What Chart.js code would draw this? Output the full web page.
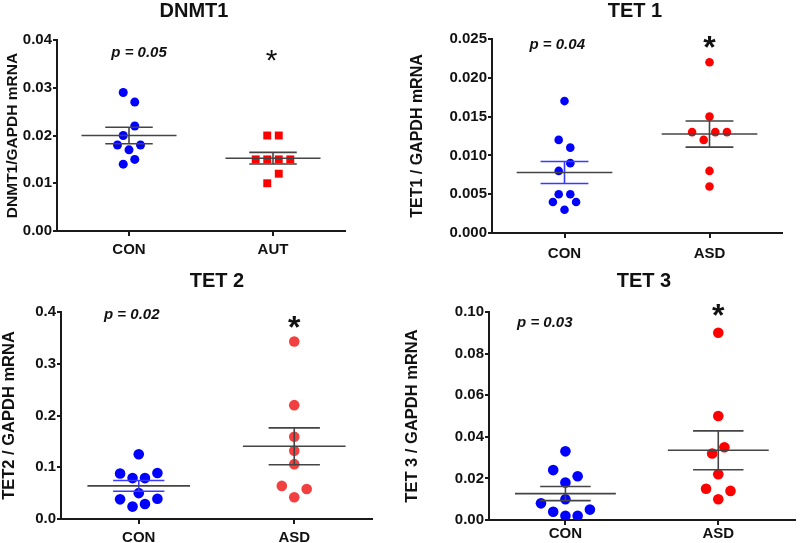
<!DOCTYPE html>
<html>
<head>
<meta charset="utf-8">
<script src="https://cdn.jsdelivr.net/npm/chart.js@4"></script>
<style>
  body { margin: 0; background: #fff; width: 800px; height: 543px; position: relative; overflow: hidden; }
  canvas { position: absolute; }
</style>
</head>
<body>
<canvas id="dnmt1" width="400" height="270" style="left:0;top:0"></canvas>
<canvas id="tet1" width="400" height="270" style="left:400px;top:0"></canvas>
<canvas id="tet2" width="400" height="273" style="left:0;top:270px"></canvas>
<canvas id="tet3" width="400" height="273" style="left:400px;top:270px"></canvas>
<script>
/* Variables */
const groupsDnmt = ['CON', 'AUT'];
const groupsTet = ['CON', 'ASD'];

// DNMT1 / GAPDH mRNA
const dnmt1Con = [0.029, 0.027, 0.022, 0.020, 0.018, 0.018, 0.017, 0.015, 0.014];
const dnmt1ConJit = [-1, 1, 1, -1, -2, 2, 0, 1, -1];
const dnmt1Aut = [0.020, 0.020, 0.015, 0.015, 0.015, 0.015, 0.012, 0.010];
const dnmt1AutJit = [-1, 1, -3, -1, 1, 3, 1, -1];
const dnmt1Ticks = [0, 0.01, 0.02, 0.03, 0.04];

// TET1 / GAPDH mRNA
const tet1Con = [0.017, 0.012, 0.011, 0.009, 0.008, 0.005, 0.005, 0.004, 0.004, 0.003];
const tet1ConJit = [0, -1, 1, 1, -1, -1, 1, -2, 2, 0];
const tet1Asd = [0.022, 0.015, 0.013, 0.013, 0.013, 0.012, 0.008, 0.006];
const tet1AsdJit = [0, 0, -3, 1, 3, -1, 0, 0];
const tet1Ticks = [0, 0.005, 0.010, 0.015, 0.020, 0.025];

// TET2 / GAPDH mRNA
const tet2Con = [0.125, 0.088, 0.079, 0.079, 0.089, 0.050, 0.038, 0.039, 0.024, 0.029];
const tet2ConJit = [0, -3, -1, 1, 3, 0, -3, 3, -1, 1];
const tet2Asd = [0.343, 0.220, 0.159, 0.132, 0.106, 0.064, 0.058, 0.042];
const tet2AsdJit = [0, 0, 0, 0, 0, -2, 2, 0];
const tet2Ticks = [0, 0.1, 0.2, 0.3, 0.4];

// TET3 / GAPDH mRNA
const tet3Con = [0.033, 0.024, 0.021, 0.018, 0.010, 0.008, 0.005, 0.004, 0.002, 0.002];
const tet3ConJit = [0, -2, 2, 0, 0, -4, 4, -2, 0, 2];
const tet3Asd = [0.090, 0.050, 0.035, 0.032, 0.022, 0.015, 0.014, 0.010];
const tet3AsdJit = [0, 0, 1, -1, 0, -2, 2, 0];
const tet3Ticks = [0, 0.02, 0.04, 0.06, 0.08, 0.10];

const FONT = "'Liberation Sans', Arial, sans-serif";
const AXIS = '#1a1a1a';
const LINE = '#444444';
const JIT = 0.04; // one jitter step, in category units

function meanSem(v) {
    const n = v.length;
    const m = v.reduce((a, b) => a + b, 0) / n;
    const sd = Math.sqrt(v.reduce((a, b) => a + (b - m) * (b - m), 0) / (n - 1));
    return [m, sd / Math.sqrt(n)];
}

function dots(vals, jit, pos, color, style, radius) {
    return {
        data: vals.map((v, i) => ({ x: pos + jit[i] * JIT, y: v })),
        backgroundColor: color,
        borderWidth: 0,
        pointStyle: style,
        pointRadius: radius,
        pointHoverRadius: radius,
        order: 2
    };
}

// mean line and SEM bars, built from the values
function meanLine(vals, pos) {
    const m = meanSem(vals)[0];
    return {
        data: [{ x: pos - 0.33, y: m }, { x: pos + 0.33, y: m }],
        showLine: true, borderColor: LINE, borderWidth: 1.6, pointRadius: 0, order: 1
    };
}
function semBars(vals, pos, color) {
    const [m, s] = meanSem(vals);
    return {
        data: [
            { x: pos - 0.165, y: m + s }, { x: pos + 0.165, y: m + s }, { x: pos, y: null },
            { x: pos - 0.165, y: m - s }, { x: pos + 0.165, y: m - s }, { x: pos, y: null },
            { x: pos, y: m - s }, { x: pos, y: m + s }
        ],
        showLine: true, spanGaps: false, borderColor: color, borderWidth: 1.6, pointRadius: 0, order: 1
    };
}

const panelText = {
    id: 'panelText',
    afterDraw(chart, args, o) {
        const { ctx } = chart;
        const x = chart.scales.x, y = chart.scales.y;
        ctx.save();
        ctx.fillStyle = '#111';
        ctx.textAlign = 'center';
        ctx.textBaseline = 'middle';
        ctx.font = 'bold 20px ' + FONT;
        ctx.fillText(o.title, o.titleX, o.titleY);
        ctx.font = 'italic bold 15px ' + FONT;
        ctx.fillText(o.pText, x.getPixelForValue(o.pAt[0]), y.getPixelForValue(o.pAt[1]));
        ctx.textBaseline = 'alphabetic';
        ctx.font = (o.starBold ? 'bold ' : '') + o.starSize + 'px ' + FONT;
        ctx.fillText('*', x.getPixelForValue(o.starAt[0]), y.getPixelForValue(o.starAt[1]) + o.starSize * 0.55);
        ctx.restore();
    }
};

function makeChart(id, p) {
    new Chart(document.getElementById(id), {
        type: 'scatter',
        data: { datasets: p.datasets },
        plugins: [panelText],
        options: {
            responsive: false,
            animation: false,
            events: [],
            layout: { padding: { top: p.top, right: p.right, left: 0, bottom: 0 } },
            plugins: {
                legend: { display: false },
                tooltip: { enabled: false },
                panelText: p.text
            },
            scales: {
                x: {
                    type: 'linear', min: 0.5, max: 2.5,
                    afterBuildTicks: (axis) => { axis.ticks = [1, 2].map(v => ({ value: v })); },
                    afterFit: (scale) => { scale.height = p.xHeight; },
                    ticks: {
                        callback: (v) => p.labels[v - 1],
                        font: { family: FONT, size: 15, weight: 'bold' },
                        color: '#111', padding: p.xPad, maxRotation: 0
                    },
                    grid: { drawOnChartArea: false, drawTicks: true, tickLength: 5, color: AXIS, lineWidth: 2 },
                    border: { display: true, color: AXIS, width: 2 }
                },
                y: {
                    type: 'linear', min: 0, max: p.ticks[p.ticks.length - 1],
                    afterBuildTicks: (axis) => { axis.ticks = p.ticks.map(v => ({ value: v })); },
                    afterFit: (scale) => { scale.width = p.yWidth; },
                    ticks: {
                        callback: (v) => v.toFixed(p.dec),
                        font: { family: FONT, size: 15, weight: 'bold' },
                        color: '#111', padding: 1
                    },
                    grid: { drawOnChartArea: false, drawTicks: true, tickLength: 4, color: AXIS, lineWidth: 2 },
                    border: { display: true, color: AXIS, width: 2 },
                    title: {
                        display: true, text: p.yTitle, color: '#111',
                        font: { family: FONT, size: p.yTitleSize, weight: 'bold' },
                        padding: { top: p.yTitlePad, bottom: 0 }
                    }
                }
            }
        }
    });
}

const BLUE = '#0000ff';
const RED = '#ff0000';

makeChart('dnmt1', {
    labels: groupsDnmt, ticks: dnmt1Ticks, dec: 2,
    top: 40, right: 55, xHeight: 39, yWidth: 57, xPad: 5,
    yTitle: 'DNMT1/GAPDH mRNA', yTitleSize: 15.5, yTitlePad: 3,
    text: { title: 'DNMT1', titleX: 194, titleY: 11, pText: 'p = 0.05', pAt: [1.07, 0.0373],
            starAt: [1.99, 0.0372], starSize: 30, starBold: false },
    datasets: [
        meanLine(dnmt1Con, 1), semBars(dnmt1Con, 1, LINE),
        meanLine(dnmt1Aut, 2), semBars(dnmt1Aut, 2, LINE),
        dots(dnmt1Con, dnmt1ConJit, 1, BLUE, 'circle', 4.5),
        dots(dnmt1Aut, dnmt1AutJit, 2, RED, 'rect', 5.6)
    ]
});

makeChart('tet1', {
    labels: groupsTet, ticks: tet1Ticks, dec: 3,
    top: 39, right: 18, xHeight: 37, yWidth: 92, xPad: 7,
    yTitle: 'TET1 / GAPDH mRNA', yTitleSize: 16, yTitlePad: 8,
    text: { title: 'TET 1', titleX: 235, titleY: 11, pText: 'p = 0.04', pAt: [0.95, 0.0242],
            starAt: [2.0, 0.0248], starSize: 32, starBold: true },
    datasets: [
        meanLine(tet1Con, 1), semBars(tet1Con, 1, '#3a3aff'),
        meanLine(tet1Asd, 2), semBars(tet1Asd, 2, LINE),
        dots(tet1Con, tet1ConJit, 1, BLUE, 'circle', 4.3),
        dots(tet1Asd, tet1AsdJit, 2, RED, 'circle', 4.3)
    ]
});

makeChart('tet2', {
    labels: groupsTet, ticks: tet2Ticks, dec: 1,
    top: 42, right: 28, xHeight: 24, yWidth: 61, xPad: 5,
    yTitle: 'TET2 / GAPDH mRNA', yTitleSize: 16.5, yTitlePad: 0,
    text: { title: 'TET 2', titleX: 217, titleY: 11, pText: 'p = 0.02', pAt: [0.955, 0.394],
            starAt: [2.0, 0.3845], starSize: 32, starBold: true },
    datasets: [
        meanLine(tet2Con, 1), semBars(tet2Con, 1, '#3a3aff'),
        meanLine(tet2Asd, 2), semBars(tet2Asd, 2, LINE),
        dots(tet2Con, tet2ConJit, 1, BLUE, 'circle', 5.3),
        dots(tet2Asd, tet2AsdJit, 2, '#f24040', 'circle', 5.3)
    ]
});

makeChart('tet3', {
    labels: groupsTet, ticks: tet3Ticks, dec: 2,
    top: 42, right: 0, xHeight: 23, yWidth: 89, xPad: 0,
    yTitle: 'TET 3 / GAPDH mRNA', yTitleSize: 16.5, yTitlePad: 3,
    text: { title: 'TET 3', titleX: 244, titleY: 11, pText: 'p = 0.03', pAt: [0.865, 0.0947],
            starAt: [2.0, 0.1019], starSize: 32, starBold: true },
    datasets: [
        meanLine(tet3Con, 1), semBars(tet3Con, 1, LINE),
        meanLine(tet3Asd, 2), semBars(tet3Asd, 2, LINE),
        dots(tet3Con, tet3ConJit, 1, BLUE, 'circle', 5.3),
        dots(tet3Asd, tet3AsdJit, 2, RED, 'circle', 5.3)
    ]
});
</script>
</body>
</html>
